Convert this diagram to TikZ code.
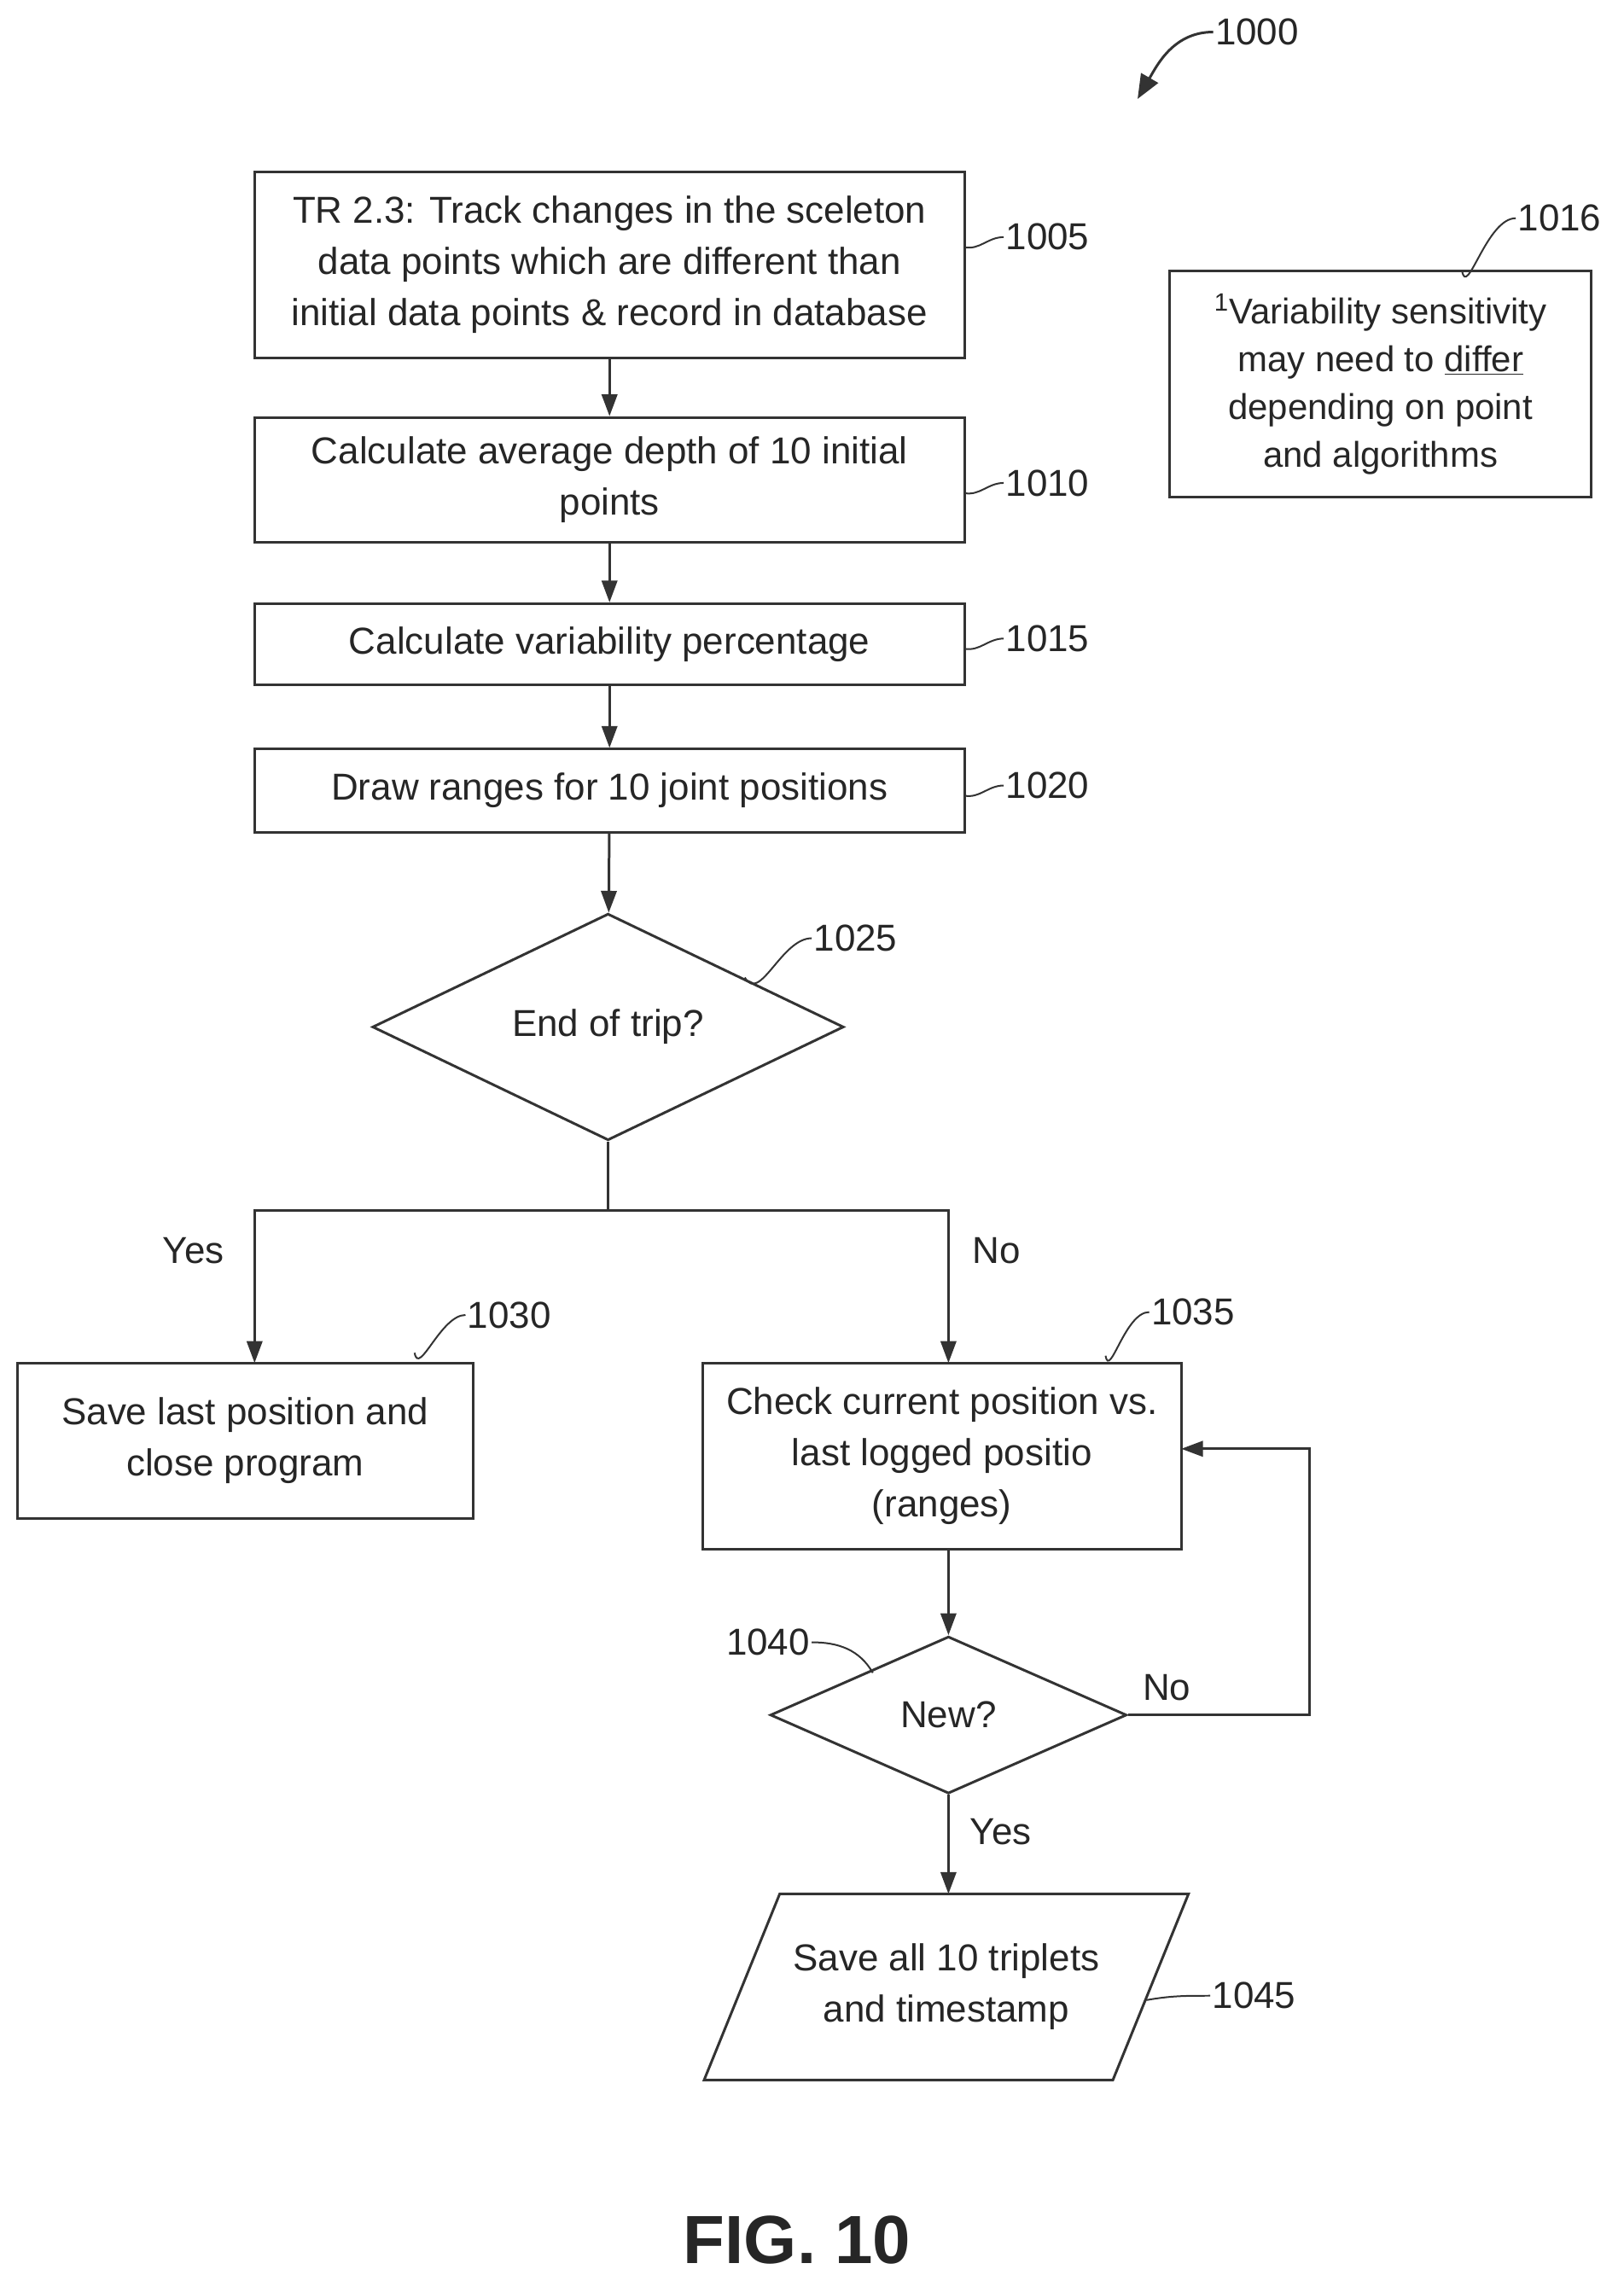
\documentclass[tikz,border=0pt]{standalone}
\usepackage{fontspec}
\setmainfont{Liberation Sans}
\usetikzlibrary{shapes.geometric,arrows.meta}
\begin{document}
\begin{tikzpicture}[x=0.3mm,y=-0.3mm,
  every node/.style={font=\fontsize{22}{30}\selectfont, text=black!85},
  box/.style={draw=black!80, line width=1.5pt, rectangle, align=center, inner sep=2pt},
  dia/.style={draw=black!80, line width=1.5pt, diamond, align=center, inner sep=0pt},
  lab/.style={anchor=west, inner sep=1pt},
  line/.style={draw=black!80, line width=1.5pt},
  arr/.style={line, -{Triangle[length=4.5mm,width=3.2mm]}},
  lead/.style={draw=black!80, line width=1pt}]
\useasboundingbox (0,0) rectangle (1116,1564);
\node[box, minimum width=146.4mm, minimum height=38.4mm] (b1005) at (419,182) {TR 2.3: Track changes in the sceleton\\data points which are different than\\initial data points \& record in database};
\node[box, minimum width=146.4mm, minimum height=25.8mm] (b1010) at (419,330) {Calculate average depth of 10 initial\\points};
\node[box, minimum width=146.4mm, minimum height=16.8mm] (b1015) at (419,443) {Calculate variability percentage};
\node[box, minimum width=146.4mm, minimum height=17.1mm] (b1020) at (419,543.5) {Draw ranges for 10 joint positions};
\node[dia, minimum width=97.2mm, minimum height=44.4mm] (d1025) at (418,706) {End of trip?};
\node[box, minimum width=93.9mm, minimum height=32.1mm] (b1030) at (168.5,990.5) {Save last position and\\close program};
\node[box, minimum width=98.7mm, minimum height=38.4mm] (b1035) at (647.5,1001) {Check current position vs.\\last logged positio\\(ranges)};
\node[dia, minimum width=73.5mm, minimum height=32.4mm] (d1040) at (652,1179) {New?};
\node[minimum width=70mm, minimum height=38.4mm, align=center, inner sep=0pt] (p1045) at (650.5,1366) {Save all 10 triplets\\and timestamp};
\draw[line] (536,1302) -- (817,1302) -- (765,1430) -- (484,1430) -- cycle;
\node[box, minimum width=87mm, minimum height=46.8mm, font=\fontsize{21}{28}\selectfont] (b1016) at (949,264) {\textsuperscript{1}Variability sensitivity\\may need to \underline{differ}\\depending on point\\and algorithms};

% labels
\node[lab] (l1000) at (834,22) {1000};
\node[lab] (l1005) at (690,163) {1005};
\node[lab] (l1010) at (690,332) {1010};
\node[lab] (l1015) at (690,439) {1015};
\node[lab] (l1020) at (690,540) {1020};
\node[lab] (l1025) at (558,645) {1025};
\node[lab] (l1030) at (320,904) {1030};
\node[lab] (l1035) at (790,902) {1035};
\node[anchor=east, inner sep=1pt] (l1040) at (558,1129) {1040};
\node[lab] (l1045) at (832,1372) {1045};
\node[lab] (l1016) at (1042,150) {1016};
\node (yes1) at (133,860) {Yes};
\node (no1) at (685,860) {No};
\node (no2) at (802,1160) {No};
\node (yes2) at (688,1259) {Yes};
\node[font=\fontsize{40}{48}\selectfont\bfseries] (fig) at (548,1540) {FIG. 10};

% leaders
\draw[lead] (663,170) to[out=-10,in=180] (l1005.west);
\draw[lead] (663,339) to[out=-10,in=180] (l1010.west);
\draw[lead] (663,446) to[out=-10,in=180] (l1015.west);
\draw[lead] (663,547) to[out=-10,in=180] (l1020.west);
\draw[lead] (512,672) to[out=-60,in=180] (l1025.west);
\draw[lead] (285,930) to[out=-80,in=180] (l1030.west);
\draw[lead] (760,932) to[out=-80,in=180] (l1035.west);
\draw[lead] (l1040.east) to[out=0,in=120] (600,1150);
\draw[lead] (788,1375) to[out=10,in=180] (l1045.west);
\draw[lead] (1005,186) to[out=-80,in=180] (l1016.west);
\draw[line, -{Triangle[length=5mm,width=4mm]}] (l1000.west) to[out=180,in=60] (782,68);

% connectors
\draw[arr] (b1005) -- (b1010);
\draw[arr] (b1010) -- (b1015);
\draw[arr] (b1015) -- (b1020);
\draw[arr] (b1020) -- (d1025);
\coordinate (split) at (418,832);
\coordinate (cY) at (175,937);
\coordinate (cN) at (652,937);
\draw[line] (d1025.south) -- (split);
\draw[arr] (split) -| (cY);
\draw[arr] (split) -| (cN);
\draw[arr] (652,1065) -- (d1040.north);
\coordinate (loop) at (900,1179);
\draw[arr] (d1040.east) -- (loop) |- (812,996);
\draw[arr] (d1040.south) -- (652,1302);
\end{tikzpicture}
\end{document}
